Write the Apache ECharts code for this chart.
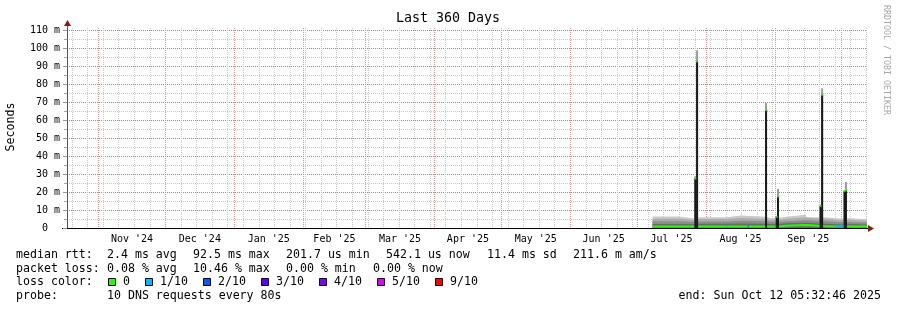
<!DOCTYPE html>
<html><head><meta charset="utf-8">
<script src="https://cdn.jsdelivr.net/npm/echarts@6/dist/echarts.min.js"></script>
<style>html,body{margin:0;padding:0;background:#fff;}#c{width:897px;height:310px;}</style>
</head><body><div id="c"></div>
<script>
// ---------------- data ----------------
const titleText = 'Last 360 Days';
const yTitle = 'Seconds';
const sideText = 'RRDTOOL / TOBI OETIKER';
const monthLabels = ["Nov '24","Dec '24","Jan '25","Feb '25","Mar '25","Apr '25","May '25","Jun '25","Jul '25","Aug '25","Sep '25"];
const monthStarts = ['2024-11-01','2024-12-01','2025-01-01','2025-02-01','2025-03-01','2025-04-01','2025-05-01','2025-06-01','2025-07-01','2025-08-01','2025-09-01','2025-10-01'];
const firstWeekLine = '2024-10-20';
const yMajorTicks = [0,10,20,30,40,50,60,70,80,90,100,110];      // ms
const yMinorTicks = [5,15,25,35,45,55,65,75,85,95,105];          // ms
const xStart = '2024-10-17 19';
const xEnd   = '2025-10-12 09';

// smoke (ms), step segments starting at smokeTimes[i]
const smokeTimes = ['2025-07-08 00','2025-07-20 00','2025-07-27 00','2025-07-29 00','2025-08-10 00','2025-08-17 00','2025-08-28 00','2025-08-30 00','2025-09-03 00','2025-09-06 00','2025-09-15 00','2025-09-22 00','2025-09-23 12','2025-10-03 00','2025-10-04 00','2025-10-12 09'];
const smokeTop  = [6.4,5.3,6.0,6.0,7.0,6.2,5.6,5.7,6.3,7.4,6.0,6.0,5.0,5.6,4.9,4.9];
const smokeHigh = [5.2,4.4,5.0,5.0,5.6,5.0,4.6,4.7,5.1,5.9,5.0,5.0,4.2,4.6,4.0,4.0];
const smokeMid  = [3.7,3.3,3.6,3.6,4.0,3.7,3.5,3.5,3.8,4.3,3.7,3.7,3.1,3.4,3.0,3.0];
const smokeLow  = [2.2,2.1,2.3,2.3,2.5,2.3,2.2,2.2,2.6,2.9,2.4,2.4,2.0,2.2,1.9,1.9];
const medianVal = [0.8,0.8,0.8,0.8,0.8,0.8,0.8,0.8,1.3,1.6,1.1,1.0,0.8,0.8,0.8,0.8];

// spikes (ms)
const spikeTimes  = ['2025-07-27 05','2025-07-28 00','2025-08-28 00','2025-09-01 19','2025-09-02 09','2025-09-21 12','2025-09-22 05','2025-10-02 07','2025-10-02 22'];
const spikeMedian = [27.5, 92.5, 65.5, 6.2, 17.5, 12.2, 74.0, 20.5, 21.0];
const spikeMax    = [28.7, 98.7, 69.4, 6.6, 21.7, 13.0, 77.6, 21.0, 25.5];

// loss-coloured median pieces (1/10 and 2/10)
const loss1Times = ['2025-08-10 06','2025-08-10 20','2025-09-28 00','2025-10-02 00'];
const loss1Vals  = [0.8, 0.8, 0.8, 0.8];
const loss2Times = ['2025-08-19 18','2025-08-20 06'];
const loss2Vals  = [0.8, 0.8];

const lossLabels = ['0','1/10','2/10','3/10','4/10','5/10','9/10'];
const lossColors = ['#26ff00','#00b8ff','#0059ff','#5e00ff','#7e00ff','#dd00ff','#ff0000'];
const statsText = [
  ['median rtt:', '2.4 ms avg', '92.5 ms max', '201.7 us min', '542.1 us now', '11.4 ms sd', '211.6 m am/s'],
  ['packet loss:', '0.08 % avg', '10.46 % max', '0.00 % min', '0.00 % now'],
  ['loss color:'],
  ['probe:', '10 DNS requests every 80s']
];
const endText = 'end: Sun Oct 12 05:32:46 2025';

// ---------------- layout ----------------
const statsX = [
  [16, 107, 193, 286, 386, 487, 573],
  [16, 107, 193, 286, 373],
  [16],
  [16, 107]
];
const lineY = [255, 268.5, 282, 295.5];

// ---------------- chart ----------------
const MONO = "'DejaVu Sans Mono', monospace";
function T(s){ const p = s.split(' '); return Date.parse(p[0] + 'T' + (p[1] || '00') + ':00:00Z'); }
const xMin = T(xStart), xMax = T(xEnd);
const DAY = 86400000;
const weekLines = [];
for (let t = T(firstWeekLine); t < xMax; t += 7 * DAY) weekLines.push(t);
const monthT = monthStarts.map(T);
const monthMid = monthLabels.map((_, i) => (monthT[i] + monthT[i + 1]) / 2);

const pairs = (times, vals) => times.map((t, i) => [T(t), vals[i]]);
const loss1Data = [[T(loss1Times[0]), loss1Vals[0]], [T(loss1Times[1]), loss1Vals[1]], [T(loss1Times[1]) + 1, null], [T(loss1Times[2]), loss1Vals[2]], [T(loss1Times[3]), loss1Vals[3]]];

const RED = '#f08a8a', HRED = '#e86a6a', GRAY = '#c8c8c8';

function smoke(name, vals, color) {
  return { name, type: 'line', step: 'end', data: pairs(smokeTimes, vals), showSymbol: false, silent: true,
    lineStyle: { width: 0 }, areaStyle: { color, opacity: 1 }, z: 3 };
}

const chart = echarts.init(document.getElementById('c'), null, { renderer: 'canvas' });

const graphic = [
  { type: 'text', x: 448, y: 19, style: { text: titleText, font: '13.3px ' + MONO, fill: '#000', align: 'center', verticalAlign: 'middle' } },
  { type: 'text', x: 11, y: 127, rotation: Math.PI / 2, style: { text: yTitle, font: '11.6px ' + MONO, fill: '#000', align: 'center', verticalAlign: 'middle' } },
  { type: 'text', x: 886, y: 60, rotation: -Math.PI / 2, style: { text: sideText, font: '8.3px ' + MONO, fill: '#a8a8a8', align: 'center', verticalAlign: 'middle' } },
  { type: 'line', shape: { x1: 62, y1: 228.5, x2: 67, y2: 228.5 }, style: { stroke: '#000', lineWidth: 1 } },
  { type: 'line', shape: { x1: 867, y1: 228.5, x2: 869, y2: 228.5 }, style: { stroke: '#000', lineWidth: 1 } },
  { type: 'line', shape: { x1: 67.5, y1: 25, x2: 67.5, y2: 28 }, style: { stroke: '#555', lineWidth: 1 } },
  { type: 'polygon', shape: { points: [[868, 225], [874, 228.5], [868, 232]] }, style: { fill: '#7f1d1d' } },
  { type: 'polygon', shape: { points: [[64, 26], [67.5, 20], [71, 26]] }, style: { fill: '#7f1d1d' } }
];
statsText.forEach((segs, i) => segs.forEach((s, j) => graphic.push({ type: 'text', x: statsX[i][j], y: lineY[i],
  style: { text: s, font: '11.6px ' + MONO, fill: '#000', verticalAlign: 'middle' } })));
graphic.push({ type: 'text', x: 881, y: lineY[3], style: { text: endText, font: '11.6px ' + MONO, fill: '#000', align: 'right', verticalAlign: 'middle' } });
let bx = 108;
lossLabels.forEach((lab, i) => {
  graphic.push({ type: 'rect', shape: { x: bx + 0.5, y: 278.5, width: 7, height: 7 }, style: { fill: lossColors[i], stroke: '#000', lineWidth: 1 } });
  graphic.push({ type: 'text', x: bx + 15, y: lineY[2], style: { text: lab, font: '11.6px ' + MONO, fill: '#000', verticalAlign: 'middle' } });
  bx = bx + 15 + lab.length * 7 + 15;
});

chart.setOption({
  animation: false,
  backgroundColor: '#fff',
  grid: { left: 67, top: 28, width: 800, height: 200, containLabel: false },
  xAxis: [
    { type: 'value', min: xMin, max: xMax, position: 'bottom', scale: true,
      axisLine: { show: true, onZero: false, lineStyle: { color: '#000', width: 1 } },
      axisTick: { show: false, customValues: weekLines },
      axisLabel: { show: false },
      splitLine: { show: true, lineStyle: { color: GRAY, type: [1, 1], width: 1 } } },
    { type: 'value', min: xMin, max: xMax, position: 'bottom', scale: true,
      axisLine: { show: false },
      axisTick: { show: false, customValues: monthT },
      axisLabel: { show: true, customValues: monthMid, margin: 6, fontFamily: MONO, fontSize: 10, color: '#000',
        formatter: v => { const i = monthMid.indexOf(v); return i >= 0 ? monthLabels[i] : ''; } },
      splitLine: { show: true, lineStyle: { color: RED, type: [1, 1], width: 1 } } }
  ],
  yAxis: [
    { type: 'value', min: 0, max: 111.1, position: 'left',
      axisLine: { show: false },
      axisTick: { show: true, length: 3, lineStyle: { color: '#aaa' }, customValues: yMinorTicks },
      axisLabel: { show: false },
      splitLine: { show: true, lineStyle: { color: GRAY, type: [1, 1], width: 1 } } },
    { type: 'value', min: 0, max: 111.1, position: 'left',
      axisLine: { show: true, lineStyle: { color: '#555' } },
      axisTick: { show: true, length: 4, lineStyle: { color: '#999' }, customValues: yMajorTicks },
      axisLabel: { margin: 7, fontFamily: MONO, fontSize: 10, color: '#000', customValues: yMajorTicks,
        formatter: v => v === 0 ? '0  ' : v + ' m' },
      splitLine: { show: true, lineStyle: { color: HRED, type: [1, 1], width: 1 } } }
  ],
  series: [
    smoke('smoke top', smokeTop, '#c9c9c9'),
    smoke('smoke high', smokeHigh, '#acacac'),
    smoke('smoke mid', smokeMid, '#8c8c8c'),
    smoke('smoke low', smokeLow, '#6a6a6a'),
    { name: 'median', type: 'line', step: 'end', data: pairs(smokeTimes, medianVal), showSymbol: false,
      lineStyle: { color: lossColors[0], width: 2 }, z: 5 },
    { name: 'median 1/10', type: 'line', step: 'end', data: loss1Data, showSymbol: false, connectNulls: false,
      lineStyle: { color: lossColors[1], width: 2 }, z: 6 },
    { name: 'median 2/10', type: 'line', step: 'end', data: pairs(loss2Times, loss2Vals), showSymbol: false,
      lineStyle: { color: lossColors[2], width: 2 }, z: 6 },
    { name: 'spike smoke', type: 'bar', data: pairs(spikeTimes, spikeMax), barWidth: 2, barGap: '-100%',
      itemStyle: { color: '#9a9a9a' }, z: 7 },
    { name: 'spike median', type: 'bar', data: pairs(spikeTimes, spikeMedian), barWidth: 2, barGap: '-100%',
      itemStyle: { color: '#1a1a1a' }, z: 8 },
    { name: 'spike tip', type: 'scatter', data: pairs(spikeTimes, spikeMedian), symbol: 'rect', symbolSize: [2, 2],
      itemStyle: { color: lossColors[0] }, z: 9 }
  ],
  graphic
});
</script></body></html>
